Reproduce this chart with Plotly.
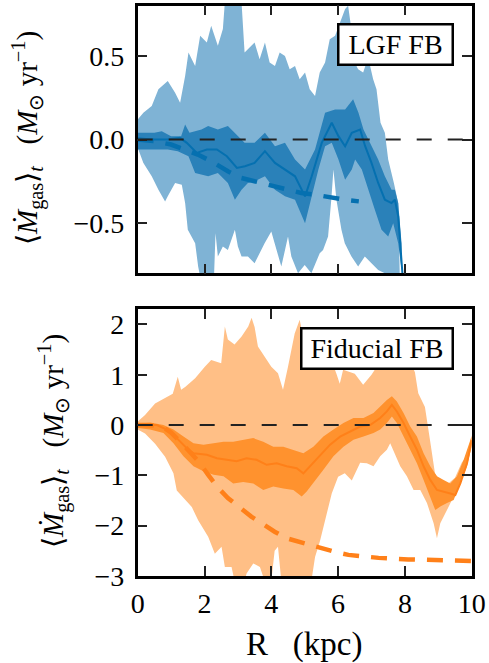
import plotly.graph_objects as go

# ---------------- data: top panel (LGF FB) ----------------
lgf_light_up_x = [0.0, 0.17, 0.42, 0.62, 0.9, 1.12, 1.27, 1.42, 1.52, 1.72, 1.87, 2.07, 2.2, 2.4, 2.55, 2.62, 3.1,
                  3.2, 3.5, 3.65, 3.81, 3.95, 4.11, 4.25, 4.41, 4.55, 4.71, 4.85, 5.01, 5.15, 5.31, 5.45, 5.61,
                  5.75, 5.91, 6.05, 6.21, 6.3, 6.45, 6.55, 6.6, 6.75, 6.9, 7.05, 7.15, 7.27, 7.4, 7.5, 7.67, 7.8, 7.85]
lgf_light_up_y = [0.12, 0.16, 0.20, 0.30, 0.35, 0.28, 0.22, 0.38, 0.52, 0.44, 0.62, 0.58, 0.68, 0.56, 0.66, 0.85, 0.85,
                  0.52, 0.58, 0.48, 0.58, 0.46, 0.44, 0.52, 0.50, 0.42, 0.44, 0.36, 0.40, 0.30, 0.26, 0.40, 0.46,
                  0.60, 0.62, 0.70, 0.78, 0.80, 0.60, 0.44, 0.42, 0.40, 0.49, 0.36, 0.30, 0.10, 0.04, -0.12, -0.26, -0.38, -0.85]
lgf_light_lo_x = [0.0, 0.07, 0.17, 0.42, 0.62, 0.82, 0.9, 1.12, 1.32, 1.42, 1.5, 1.72, 1.81, 1.9, 2.28, 2.33, 2.4,
                  2.55, 2.7, 2.91, 3.0, 3.11, 3.3, 3.5, 3.8, 4.0, 4.1, 4.3, 4.5, 4.6, 4.8, 5.0, 5.2, 5.45, 5.55,
                  5.7, 5.8, 5.86, 5.95, 6.1, 6.2, 6.4, 6.6, 6.8, 7.0, 7.2, 7.4, 7.6, 7.85]
lgf_light_lo_y = [-0.05, -0.08, -0.14, -0.22, -0.30, -0.37, -0.34, -0.26, -0.27, -0.38, -0.54, -0.62, -0.76, -0.85, -0.85, -0.56, -0.70,
                  -0.64, -0.66, -0.54, -0.64, -0.70, -0.70, -0.74, -0.62, -0.55, -0.62, -0.76, -0.58, -0.70, -0.80, -0.75, -0.80, -0.68, -0.66,
                  -0.58, -0.35, -0.18, -0.36, -0.54, -0.62, -0.70, -0.76, -0.70, -0.74, -0.78, -0.80, -0.85, -0.85]

lgf_dark_up_x = [0.0, 0.5, 0.72, 1.0, 1.3, 1.42, 1.55, 1.91, 2.11, 2.4, 2.7, 2.91, 3.2, 3.5, 3.81, 4.11, 4.41, 4.71,
                 5.01, 5.31, 5.61, 5.91, 6.21, 6.45, 6.61, 6.76, 6.96, 7.2, 7.4, 7.6, 7.7, 7.8, 7.9]
lgf_dark_up_y = [0.04, 0.04, 0.05, 0.02, 0.02, 0.09, 0.04, 0.06, 0.08, 0.06, 0.08, 0.04, -0.02, -0.02, 0.04, -0.04, -0.02, -0.12,
                 -0.18, -0.06, 0.16, 0.18, 0.18, 0.24, 0.16, 0.06, -0.02, -0.12, -0.22, -0.30, -0.30, -0.38, -0.62]
lgf_dark_lo_x = [0.0, 0.5, 0.9, 1.2, 1.52, 1.72, 2.11, 2.4, 2.7, 2.91, 3.11, 3.3, 3.5, 3.81, 4.11, 4.41, 4.71, 5.01,
                 5.21, 5.41, 5.61, 5.81, 6.01, 6.21, 6.41, 6.51, 6.71, 6.91, 7.1, 7.3, 7.5, 7.65, 7.8, 7.9]
lgf_dark_lo_y = [-0.06, -0.06, -0.06, -0.07, -0.10, -0.20, -0.22, -0.20, -0.26, -0.36, -0.30, -0.26, -0.25, -0.22, -0.30, -0.34, -0.36, -0.50,
                 -0.34, -0.18, -0.04, -0.02, -0.12, -0.24, -0.18, -0.12, -0.18, -0.30, -0.42, -0.54, -0.58, -0.50, -0.62, -0.78]

lgf_mean_x = [0.0, 0.4, 0.9, 1.27, 1.47, 1.77, 2.07, 2.37, 2.67, 2.97, 3.21, 3.5, 3.81, 4.11, 4.41, 4.71, 5.01, 5.21,
              5.51, 5.81, 6.01, 6.21, 6.41, 6.66, 6.81, 7.0, 7.2, 7.4, 7.6, 7.7, 7.8, 7.9, 7.95, 8.0]
lgf_mean_y = [0.0, 0.0, 0.0, 0.01, -0.02, -0.08, -0.06, -0.06, -0.10, -0.17, -0.16, -0.14, -0.07, -0.14, -0.18, -0.22, -0.34, -0.22,
              -0.02, 0.10, 0.02, -0.04, 0.04, 0.06, -0.04, -0.14, -0.26, -0.36, -0.38, -0.36, -0.46, -0.68, -0.82, -1.0]

lgf_model_x = [0.0, 0.5, 1.0, 1.4, 1.8, 2.2, 2.7, 3.1, 3.5, 3.9, 4.4, 4.9, 5.3, 5.8, 6.2, 6.62]
lgf_model_y = [0.0, -0.01, -0.03, -0.06, -0.09, -0.13, -0.19, -0.23, -0.25, -0.27, -0.30, -0.32, -0.33, -0.35, -0.36, -0.37]

# ---------------- data: bottom panel (Fiducial FB) ----------------
fid_light_up_x = [0.0, 0.22, 0.52, 0.9, 1.05, 1.2, 1.3, 1.43, 1.72, 2.01, 2.2, 2.5, 2.61, 2.7, 2.9, 3.11, 3.31, 3.41,
                  3.5, 3.6, 3.8, 4.0, 4.2, 4.35, 4.5, 4.7, 4.85, 5.0, 5.5, 5.85, 5.95, 6.05, 6.15, 6.5, 6.75, 7.0,
                  7.3, 7.8, 8.2, 8.3, 8.4, 8.6, 8.75, 8.9, 9.1, 9.3, 9.5, 9.7, 9.86, 10.0]
fid_light_up_y = [0.07, 0.20, 0.43, 0.56, 0.62, 0.96, 0.70, 0.76, 0.93, 1.16, 1.29, 1.23, 1.96, 1.70, 1.60, 1.76, 1.96, 2.13,
                  1.95, 1.56, 1.36, 1.16, 1.03, 0.70, 1.16, 1.82, 2.09, 1.60, 1.40, 1.20, 1.02, 0.82, 1.10, 1.02, 0.80, 1.00,
                  1.30, 1.40, 1.20, 1.05, 0.63, 0.36, -0.29, -0.96, -1.16, -1.16, -1.05, -0.75, -0.60, -0.20]
fid_light_lo_x = [0.0, 0.22, 0.52, 0.82, 1.07, 1.17, 1.42, 1.62, 1.81, 2.11, 2.31, 2.51, 2.61, 2.81, 2.9, 3.2, 3.26,
                  3.46, 3.66, 3.8, 4.0, 4.1, 4.2, 4.3, 5.2, 5.31, 5.46, 5.61, 5.81, 6.0, 6.2, 6.41, 6.66, 6.86, 7.06,
                  7.26, 7.46, 7.56, 7.66, 7.86, 8.06, 8.26, 8.46, 8.66, 8.86, 8.96, 9.06, 9.26, 9.46, 9.66, 9.86, 10.0]
fid_light_lo_y = [-0.09, -0.17, -0.37, -0.63, -0.96, -1.30, -1.49, -1.63, -1.89, -2.22, -2.56, -2.42, -2.82, -2.82, -3.1, -3.1, -2.95,
                  -2.75, -2.82, -3.1, -3.1, -2.50, -2.42, -3.1, -3.1, -2.62, -2.30, -1.89, -1.36, -1.03, -0.96, -1.10, -0.75, -0.76, -0.82,
                  -0.62, -0.49, -0.36, -0.49, -0.82, -1.02, -1.29, -1.29, -1.55, -1.95, -2.25, -1.95, -1.69, -1.42, -1.02, -0.76, -0.45]

fid_dark_up_x = [0.0, 0.37, 0.77, 1.07, 1.37, 1.67, 1.97, 2.27, 2.57, 2.86, 3.16, 3.46, 3.76, 4.06, 4.36, 4.66, 4.96,
                 5.26, 5.56, 5.86, 6.16, 6.46, 6.76, 7.06, 7.26, 7.46, 7.61, 7.76, 7.96, 8.16, 8.36, 8.56, 8.76, 8.96,
                 9.16, 9.36, 9.56, 9.76, 10.0]
fid_dark_up_y = [0.04, 0.05, 0.0, -0.09, -0.23, -0.36, -0.39, -0.36, -0.33, -0.33, -0.29, -0.26, -0.33, -0.43, -0.43, -0.49, -0.56,
                 -0.43, -0.23, -0.09, 0.04, 0.14, 0.14, 0.24, 0.37, 0.50, 0.57, 0.47, 0.24, -0.03, -0.23, -0.56, -0.82, -1.02,
                 -1.09, -1.16, -1.02, -0.69, -0.22]
fid_dark_lo_x = [0.0, 0.37, 0.77, 1.07, 1.37, 1.67, 1.97, 2.27, 2.57, 2.86, 3.16, 3.46, 3.76, 4.06, 4.36, 4.66, 4.91,
                 5.06, 5.26, 5.56, 5.86, 6.16, 6.46, 6.76, 7.06, 7.26, 7.46, 7.61, 7.76, 7.96, 8.16, 8.36, 8.56, 8.76,
                 8.91, 9.06, 9.26, 9.46, 9.66, 9.86, 10.0]
fid_dark_lo_y = [-0.06, -0.09, -0.16, -0.36, -0.62, -0.82, -0.92, -0.99, -1.02, -1.16, -1.13, -1.16, -1.29, -1.22, -1.26, -1.29, -1.42,
                 -1.32, -1.16, -0.89, -0.62, -0.43, -0.29, -0.23, -0.16, -0.09, 0.04, 0.17, 0.04, -0.23, -0.49, -0.76, -1.09, -1.42,
                 -1.69, -1.62, -1.55, -1.49, -1.16, -0.82, -0.40]

fid_mean_x = [0.0, 0.57, 0.87, 1.17, 1.47, 1.67, 2.07, 2.37, 2.67, 2.96, 3.26, 3.56, 3.86, 4.16, 4.46, 4.76, 4.96, 5.16,
              5.46, 5.76, 6.06, 6.36, 6.66, 6.96, 7.26, 7.46, 7.61, 7.76, 7.96, 8.16, 8.36, 8.56, 8.76, 8.96, 9.16,
              9.36, 9.51, 9.66, 9.86, 10.0]
fid_mean_y = [0.0, 0.0, -0.09, -0.26, -0.46, -0.56, -0.59, -0.66, -0.69, -0.72, -0.66, -0.69, -0.79, -0.76, -0.82, -0.86, -0.96, -0.82,
              -0.62, -0.39, -0.23, -0.13, -0.03, 0.0, 0.14, 0.27, 0.40, 0.27, 0.04, -0.23, -0.49, -0.82, -1.09, -1.29, -1.32,
              -1.36, -1.39, -1.16, -0.76, -0.30]

fid_model_x = [0.0, 0.5, 0.8, 1.0, 1.3, 1.6, 1.82, 2.1, 2.37, 2.7, 3.06, 3.4, 3.76, 4.1, 4.46, 5.0, 5.41, 5.9, 6.31,
               7.21, 8.1, 9.1, 10.0]
fid_model_y = [0.0, -0.01, -0.06, -0.15, -0.35, -0.55, -0.72, -0.98, -1.22, -1.45, -1.65, -1.82, -1.97, -2.12, -2.25, -2.36,
               -2.43, -2.52, -2.58, -2.64, -2.67, -2.69, -2.70]

zero_x = [0.0, 10.0]
zero_y = [0.0, 0.0]

top_ticks = [-0.5, 0.0, 0.5]
top_ticktext = ["\u22120.5", "0.0", "0.5"]
bot_ticks = [-3, -2, -1, 0, 1, 2]
bot_ticktext = ["\u22123", "\u22122", "\u22121", "0", "1", "2"]
x_ticks = [0, 2, 4, 6, 8, 10]

# ---------------- styling ----------------
SERIF = "Liberation Serif"
blue_light, blue_dark, blue_line = "#7FB3D5", "#2A81B9", "#0570B0"
orange_light, orange_dark, orange_line = "#FFBF86", "#FF922E", "#FF8019"

fig = go.Figure()


def band(xu, yu, xl, yl, color, xa, ya):
    fig.add_trace(go.Scatter(x=xu + xl[::-1], y=yu + yl[::-1], fill="toself", fillcolor=color,
                             mode="lines", line=dict(width=0, color=color), hoverinfo="skip",
                             xaxis=xa, yaxis=ya, showlegend=False))


def panel(light, dark, mean, model, cl, cd, cline, xa, ya):
    band(*light, cl, xa, ya)
    band(*dark, cd, xa, ya)
    fig.add_trace(go.Scatter(x=mean[0], y=mean[1], mode="lines", line=dict(color=cline, width=2),
                             xaxis=xa, yaxis=ya, showlegend=False))
    fig.add_trace(go.Scatter(x=model[0], y=model[1], mode="lines",
                             line=dict(color=cline, width=4.5, dash="16px,12px"),
                             xaxis=xa, yaxis=ya, showlegend=False))
    fig.add_trace(go.Scatter(x=zero_x, y=zero_y, mode="lines",
                             line=dict(color="#222222", width=2, dash="15px,16px"),
                             xaxis=xa, yaxis=ya, showlegend=False))


panel((lgf_light_up_x, lgf_light_up_y, lgf_light_lo_x, lgf_light_lo_y),
      (lgf_dark_up_x, lgf_dark_up_y, lgf_dark_lo_x, lgf_dark_lo_y),
      (lgf_mean_x, lgf_mean_y), (lgf_model_x, lgf_model_y),
      blue_light, blue_dark, blue_line, "x", "y")
panel((fid_light_up_x, fid_light_up_y, fid_light_lo_x, fid_light_lo_y),
      (fid_dark_up_x, fid_dark_up_y, fid_dark_lo_x, fid_dark_lo_y),
      (fid_mean_x, fid_mean_y), (fid_model_x, fid_model_y),
      orange_light, orange_dark, orange_line, "x2", "y2")

W, H = 489, 663
xd = [137.7 / W, 471.7 / W]
axis_common = dict(showline=True, linecolor="black", linewidth=2.5, mirror="allticks",
                   ticks="inside", ticklen=10, tickwidth=1.6, tickcolor="#222222",
                   showgrid=False, zeroline=False, automargin=False,
                   tickfont=dict(family=SERIF, size=28, color="black"))

fig.update_layout(
    width=W, height=H, margin=dict(l=0, r=0, t=0, b=0, autoexpand=False),
    paper_bgcolor="white", plot_bgcolor="white", showlegend=False,
    xaxis=dict(domain=xd, range=[0, 10], tickvals=x_ticks, showticklabels=False, anchor="y", **axis_common),
    yaxis=dict(domain=[1 - 273.3 / H, 1 - 5.7 / H], range=[-0.8, 0.8], tickvals=top_ticks,
               ticktext=top_ticktext, anchor="x", ticklabelstandoff=5, **axis_common),
    xaxis2=dict(domain=xd, range=[0, 10], tickvals=x_ticks, anchor="y2", ticklabelstandoff=1, **axis_common),
    yaxis2=dict(domain=[1 - 576 / H, 1 - 309.3 / H], range=[-3, 2.3], tickvals=bot_ticks,
                ticktext=bot_ticktext, anchor="x2", ticklabelstandoff=5, **axis_common),
)

ytitle = ("\u27e8<i>\u1e40</i><sub>gas</sub>\u27e9<sub><i>t</i></sub>\u00a0\u00a0\u00a0"
          "(<i>M</i><sub>\u2299</sub>\u00a0yr<sup>\u22121</sup>)")
ann = [
    dict(text=ytitle, x=27 / W, y=1 - 138 / H, textangle=-90),
    dict(text=ytitle, x=53 / W, y=1 - 441 / H, textangle=-90),
    dict(text="R\u00a0\u00a0\u00a0(kpc)", x=304 / W, y=1 - 644 / H, font=dict(family=SERIF, size=33, color="black")),
]
for a in ann:
    a.setdefault("font", dict(family=SERIF, size=29, color="black"))
    fig.add_annotation(xref="paper", yref="paper", showarrow=False, xanchor="center", yanchor="middle", **a)

for label, ytop, wbox in [("LGF FB", 23.3, 106), ("Fiducial FB", 327.3, 143)]:
    fig.add_annotation(text=label, xref="paper", yref="paper", x=454.3 / W, y=1 - ytop / H,
                       xanchor="right", yanchor="top", showarrow=False, width=wbox, height=32,
                       font=dict(family=SERIF, size=28, color="black"),
                       bgcolor="white", bordercolor="black", borderwidth=2.5, borderpad=3)

fig.write_html("out.html")
